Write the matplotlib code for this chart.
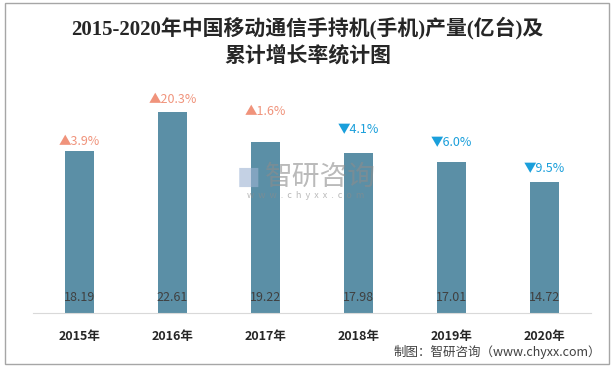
import matplotlib.pyplot as plt
from matplotlib.patches import Rectangle

years = ['2015年', '2016年', '2017年', '2018年', '2019年', '2020年']
output = [18.19, 22.61, 19.22, 17.98, 17.01, 14.72]
growth = [3.9, 20.3, 1.6, -4.1, -6.0, -9.5]

# growth label offsets above bar top (points)
label_gap = [7, 9, 22, 17, 14, 10]

plt.rcParams['font.family'] = ['Noto Sans CJK SC', 'DejaVu Sans']

fig = plt.figure(figsize=(6.15, 3.69), dpi=100)
ax = fig.add_axes([0.0537, 0.1518, 0.907, 0.6016])

x = range(len(years))
ax.bar(x, output, width=0.31, color='#5B8FA6', zorder=2)
ax.set_xlim(-0.5, len(years) - 0.5)
ax.set_ylim(0, 25)

for s in ['top', 'right', 'left']:
    ax.spines[s].set_visible(False)
ax.spines['bottom'].set_color('#D9D9D9')
ax.set_yticks([])
ax.set_xticks(list(x))
ax.set_xticklabels(years, fontsize=9, fontweight='bold', color='#262626')
ax.tick_params(axis='x', length=0, pad=12)

for i, v in enumerate(output):
    ax.annotate(f'{v:.2f}', xy=(i, 0), xytext=(0, 10.8), textcoords='offset points',
                ha='center', va='center', fontsize=9, color='#404040', zorder=3)

for i, (v, g) in enumerate(zip(output, growth)):
    if g >= 0:
        txt, col = f'▲{g:.1f}%', '#F0937B'
    else:
        txt, col = f'▼{abs(g):.1f}%', '#1A9FDB'
    ax.annotate(txt, xy=(i, v), xytext=(0, label_gap[i]), textcoords='offset points',
                ha='center', va='center', fontsize=9, color=col,
                annotation_clip=False)

# title
fig.text(0.5, 1 - 28 / 369, '2015-2020年中国移动通信手持机(手机)产量(亿台)及',
         ha='center', va='center', fontsize=15, fontweight='bold', color='#262626',
         family=['Liberation Serif', 'Noto Sans CJK SC'])
fig.text(0.5, 1 - 55 / 369, '累计增长率统计图', ha='center', va='center',
         fontsize=15, fontweight='bold', color='#262626')

# watermark
fig.text(320 / 615, 1 - 177 / 369, '智研咨询', ha='center', va='center', fontsize=20,
         color='#8C8C8C', alpha=0.6, zorder=5)
fig.text(306 / 615, 1 - 196 / 369, 'w  w  w  .  c  h  y  x  x  .  c  o  m', ha='center',
         va='center', fontsize=6.5, color='#8C8C8C', alpha=0.6, zorder=5)
fig.text(249 / 615, 1 - 177 / 369, '■', ha='center', va='center', fontsize=18,
         color='#9DB3D3', alpha=0.6, zorder=5, family=['DejaVu Sans'])

# source
fig.text(601 / 615, 1 - 352 / 369, '制图：智研咨询（www.chyxx.com）', ha='right', va='center',
         fontsize=9, color='#404040')

fig.patches.append(Rectangle((5 / 615, 5 / 369), 604 / 615, 361 / 369,
                             transform=fig.transFigure, fill=False,
                             edgecolor='#A6A6A6', linewidth=1))

fig.savefig('out.png', dpi=100)
